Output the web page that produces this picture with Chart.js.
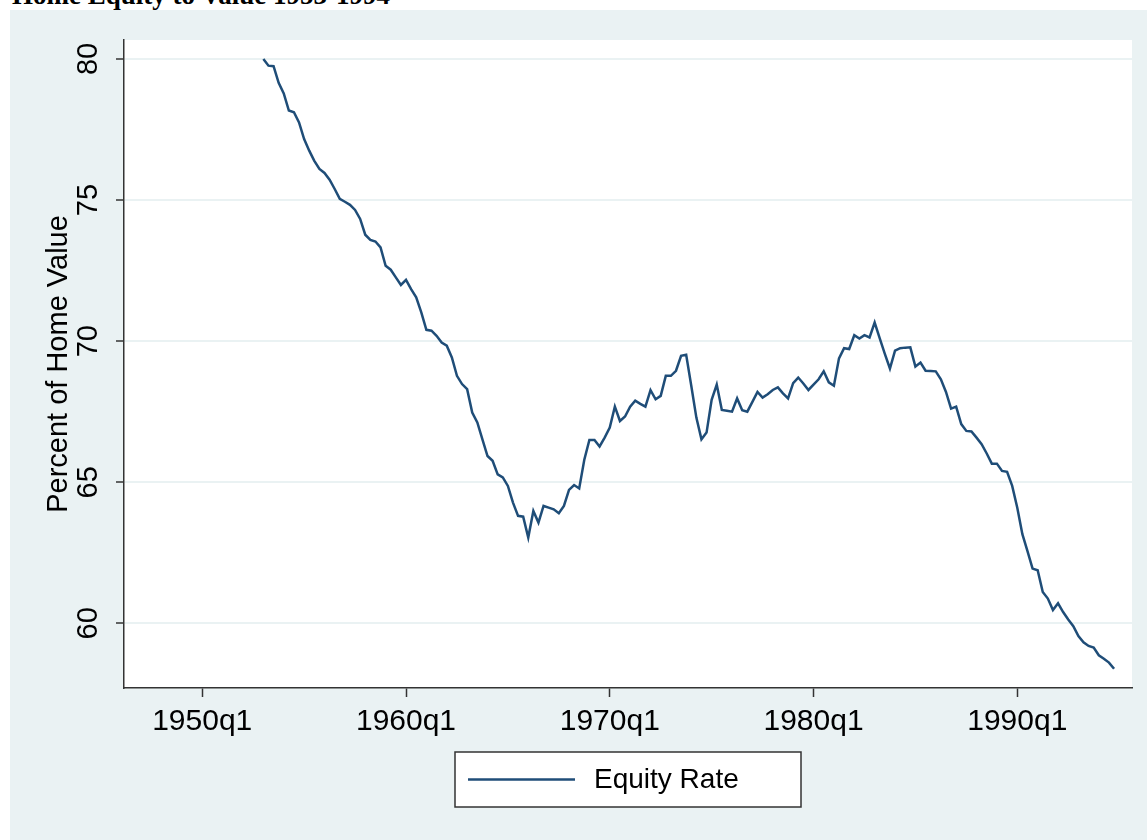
<!DOCTYPE html>
<html>
<head>
<meta charset="utf-8">
<title>Home Equity to Value 1953-1994</title>
<script src="https://cdn.jsdelivr.net/npm/chart.js@4"></script>
<style>
  html, body { margin: 0; padding: 0; background: #fff; overflow: hidden; }
  #title {
    position: absolute; left: 12px; top: -18px;
    font: bold 27px "Liberation Serif", "Times New Roman", serif;
    line-height: 26px; white-space: nowrap; color: #000;
  }
  #panel { position: absolute; left: 10px; top: 10px; width: 1137px; height: 830px; background: #eaf2f3; }
</style>
</head>
<body>
<div id="title">Home Equity to Value 1953-1994</div>
<div id="panel"><canvas id="equityChart" width="1137" height="830"></canvas></div>
<script>
// quarterly series, first value is 1953q1
const startYear = 1953;
const equityRate = [
  80.00, 79.76, 79.74, 79.15, 78.78, 78.17, 78.11, 77.75,   // 1953-54
  77.16, 76.75, 76.39, 76.10, 75.96, 75.72, 75.39, 75.04,   // 1955-56
  74.94, 74.83, 74.65, 74.33, 73.77, 73.59, 73.53, 73.32,   // 1957-58
  72.67, 72.53, 72.26, 71.99, 72.17, 71.84, 71.55, 71.02,   // 1959-60
  70.40, 70.37, 70.19, 69.95, 69.84, 69.42, 68.77, 68.48,   // 1961-62
  68.30, 67.47, 67.12, 66.52, 65.93, 65.76, 65.28, 65.17,   // 1963-64
  64.87, 64.28, 63.81, 63.78, 63.04, 63.98, 63.57, 64.16,   // 1965-66
  64.10, 64.04, 63.90, 64.16, 64.73, 64.90, 64.78, 65.80,   // 1967-68
  66.50, 66.50, 66.27, 66.58, 66.94, 67.68, 67.17, 67.33,   // 1969-70
  67.68, 67.89, 67.78, 67.68, 68.26, 67.94, 68.06, 68.77,   // 1971-72
  68.77, 68.95, 69.48, 69.52, 68.42, 67.29, 66.52, 66.76,   // 1973-74
  67.92, 68.46, 67.56, 67.53, 67.50, 67.97, 67.55, 67.50,   // 1975-76
  67.85, 68.20, 68.00, 68.12, 68.27, 68.36, 68.15, 67.97,   // 1977-78
  68.51, 68.71, 68.50, 68.27, 68.46, 68.65, 68.93, 68.54,   // 1979-80
  68.42, 69.39, 69.75, 69.72, 70.21, 70.09, 70.21, 70.13,   // 1981-82
  70.66, 70.10, 69.55, 69.03, 69.66, 69.75, 69.77, 69.78,   // 1983-84
  69.10, 69.24, 68.95, 68.94, 68.93, 68.65, 68.20, 67.61,   // 1985-86
  67.68, 67.06, 66.82, 66.80, 66.58, 66.35, 66.02, 65.66,   // 1987-88
  65.66, 65.40, 65.37, 64.87, 64.10, 63.16, 62.56, 61.94,   // 1989-90
  61.88, 61.11, 60.88, 60.47, 60.71, 60.40, 60.14, 59.90,   // 1991-92
  59.55, 59.33, 59.20, 59.14, 58.87, 58.75, 58.61, 58.39    // 1993-94
];

const yTicks = [60, 65, 70, 75, 80];
const xTickYears = [1950, 1960, 1970, 1980, 1990];
const xTickLabels = ['1950q1', '1960q1', '1970q1', '1980q1', '1990q1'];

const seriesLabel = 'Equity Rate';
const yTitle = 'Percent of Home Value';

// x as decimal year (1953q1 -> 1953.0, 1953q2 -> 1953.25 ...)
const points = equityRate.map((v, i) => ({ x: startYear + i / 4, y: v }));

const axisColor = '#333';
const gridColor = '#eaf2f3';
const fontFamily = '"Liberation Sans", Arial, sans-serif';

// white plot region like stata
const plotBackground = {
  id: 'plotBackground',
  beforeDraw(chart) {
    const { ctx, chartArea: a } = chart;
    ctx.save();
    ctx.fillStyle = '#fff';
    ctx.fillRect(a.left, a.top, a.right - a.left, a.bottom - a.top);
    ctx.restore();
  }
};

// boxed legend under the x axis, centered on the plot
const boxLegend = {
  id: 'boxLegend',
  afterDraw(chart) {
    const { ctx, chartArea: a } = chart;
    const ds = chart.data.datasets[0];
    const w = 346, h = 55;
    const x = (a.left + a.right) / 2 - w / 2;
    const y = a.bottom + 64;
    ctx.save();
    ctx.fillStyle = '#fff';
    ctx.fillRect(x, y, w, h);
    ctx.strokeStyle = axisColor;
    ctx.lineWidth = 1.5;
    ctx.strokeRect(x, y, w, h);
    ctx.strokeStyle = ds.borderColor;
    ctx.lineWidth = ds.borderWidth;
    ctx.beginPath();
    ctx.moveTo(x + 13, y + h / 2);
    ctx.lineTo(x + 120, y + h / 2);
    ctx.stroke();
    ctx.fillStyle = '#000';
    ctx.font = '28px ' + fontFamily;
    ctx.textBaseline = 'middle';
    ctx.textAlign = 'left';
    ctx.fillText(ds.label, x + 139, y + h / 2 + 1);
    ctx.restore();
  }
};

new Chart(document.getElementById('equityChart'), {
  type: 'line',
  data: {
    datasets: [{
      label: seriesLabel,
      data: points,
      borderColor: '#1f4d78',
      borderWidth: 2.5,
      pointRadius: 0,
      tension: 0,
      fill: false
    }]
  },
  options: {
    responsive: false,
    animation: false,
    devicePixelRatio: 1,
    layout: { padding: { left: 0, right: 15, top: 30, bottom: 0 } },
    plugins: {
      legend: { display: false },
      tooltip: { enabled: false }
    },
    scales: {
      x: {
        type: 'linear',
        min: 1946.16,
        max: 1995.63,
        afterBuildTicks: s => { s.ticks = xTickYears.map(v => ({ value: v })); },
        afterFit: s => { s.height = 152; },
        grid: { drawOnChartArea: false, tickLength: 9, tickColor: axisColor, tickWidth: 1.5 },
        border: { display: true, color: axisColor, width: 1.5 },
        ticks: {
          autoSkip: false,
          maxRotation: 0,
          padding: 7,
          color: '#000',
          font: { family: fontFamily, size: 30 },
          callback: v => xTickLabels[xTickYears.indexOf(v)]
        }
      },
      y: {
        min: 57.71,
        max: 80.67,
        afterBuildTicks: s => { s.ticks = yTicks.map(v => ({ value: v })); },
        afterFit: s => { s.width = 114; },
        grid: { color: gridColor, lineWidth: 2, tickLength: 8, tickColor: axisColor, tickWidth: 1.5 },
        border: { display: true, color: axisColor, width: 1.5 },
        ticks: {
          minRotation: 90,
          maxRotation: 90,
          crossAlign: 'center',
          padding: 11,
          color: '#000',
          font: { family: fontFamily, size: 29 }
        },
        title: {
          display: true,
          text: yTitle,
          color: '#000',
          font: { family: fontFamily, size: 29 },
          padding: { top: 32, bottom: 0 }
        }
      }
    }
  },
  plugins: [plotBackground, boxLegend]
});
</script>
</body>
</html>
